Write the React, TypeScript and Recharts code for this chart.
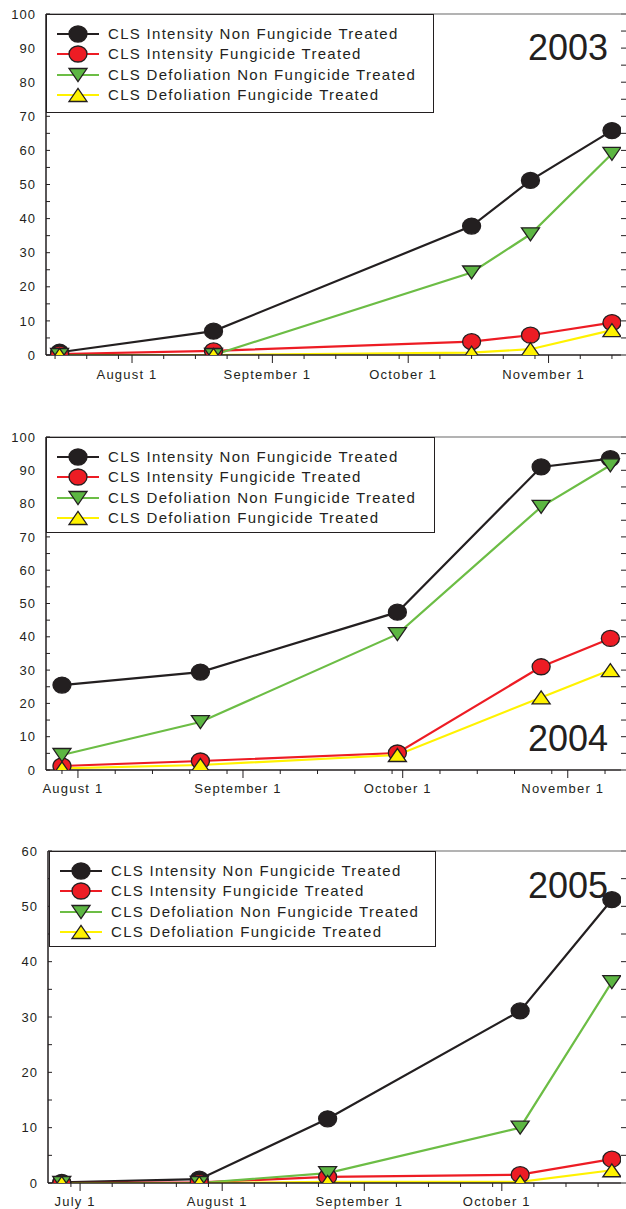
import { LineChart, Line, XAxis, YAxis, Legend, ReferenceLine } from 'recharts'

const SERIES_NAMES = [
  'CLS Intensity Non Fungicide Treated',
  'CLS Intensity Fungicide Treated',
  'CLS Defoliation Non Fungicide Treated',
  'CLS Defoliation Fungicide Treated',
]
const SERIES_COLORS = ['#231f20', '#ed1c24', '#6cbd45', '#fff200']
const SERIES_FILLS = ['#231f20', '#ed1c24', '#5cb642', '#fff200']
const SERIES_SHAPES = ['circle', 'circle', 'down', 'up']
const KEYS = ['intNon', 'intFung', 'defNon', 'defFung']

const MONTHS = ['January', 'February', 'March', 'April', 'May', 'June', 'July', 'August', 'September', 'October', 'November', 'December']

// 2003
const dates2003 = ['2003-07-16', '2003-08-19', '2003-10-15', '2003-10-28', '2003-11-15']
const intNon2003 = [0.8, 7, 37.8, 51.2, 65.8]
const intFung2003 = [0.3, 1.2, 3.9, 5.8, 9.5]
const defNon2003 = [0, 0, 24.2, 35.4, 59]
const defFung2003 = [0, 0, 0.7, 1.7, 7.3]

// 2004
const dates2004 = ['2004-07-29', '2004-08-24', '2004-09-30', '2004-10-27', '2004-11-09']
const intNon2004 = [25.5, 29.4, 47.4, 91, 93.5]
const intFung2004 = [1.2, 2.7, 5.1, 31, 39.5]
const defNon2004 = [4.5, 14.4, 40.8, 79, 91.5]
const defFung2004 = [0.5, 1.5, 4.5, 21.8, 30]

// 2005
const dates2005 = ['2005-06-27', '2005-07-27', '2005-08-24', '2005-10-05', '2005-10-25']
const intNon2005 = [0.1, 0.7, 11.6, 31.1, 51.2]
const intFung2005 = [0, 0.1, 1.1, 1.5, 4.3]
const defNon2005 = [0, 0, 1.8, 10, 36.3]
const defFung2005 = [0, 0, 0.2, 0.2, 2.3]

const INK = '#231f20'
const FONT = '"Liberation Sans", Arial, Helvetica, sans-serif'

function dayNum(s: string) {
  const [y, m, d] = s.split('-').map(Number)
  return Date.UTC(y, m - 1, d) / 86400000
}

function dateOf(n: number) {
  return new Date(n * 86400000)
}

// month starts (major) + 8th/15th/22nd/29th (minor)
function xTicks(from: number, to: number) {
  const out: number[] = []
  for (let n = Math.ceil(from); n <= to; n++) {
    const d = dateOf(n).getUTCDate()
    if ([1, 8, 15, 22, 29].includes(d)) out.push(n)
  }
  return out
}

function Marker({ cx, cy, shape, fill }: any) {
  if (cx == null || cy == null) return null
  if (shape === 'circle') {
    return <ellipse cx={cx} cy={cy} rx={9} ry={8} fill={fill} stroke={INK} strokeWidth={1.3} />
  }
  const pts =
    shape === 'down'
      ? `${cx - 9},${cy - 6.5} ${cx + 9},${cy - 6.5} ${cx},${cy + 6.5}`
      : `${cx - 9},${cy + 6.5} ${cx + 9},${cy + 6.5} ${cx},${cy - 6.5}`
  return <polygon points={pts} fill={fill} stroke={INK} strokeWidth={1.3} strokeLinejoin="miter" />
}

function LegendBox({ width, height }: { width: number; height: number }) {
  return (
    <div
      style={{
        width,
        height,
        boxSizing: 'border-box',
        border: `1px solid ${INK}`,
        background: '#fff',
        paddingTop: 9,
      }}
    >
      {SERIES_NAMES.map((name, i) => (
        <div key={name} style={{ display: 'flex', alignItems: 'center', height: 20.3 }}>
          <svg width={61} height={20} style={{ flex: 'none' }}>
            <line x1={10} x2={52} y1={10} y2={10} stroke={SERIES_COLORS[i]} strokeWidth={2.2} />
            <Marker cx={31} cy={10} shape={SERIES_SHAPES[i]} fill={SERIES_FILLS[i]} />
          </svg>
          <span
            style={{
              fontFamily: FONT,
              fontSize: 15,
              letterSpacing: 1.3,
              color: INK,
              whiteSpace: 'nowrap',
              lineHeight: '20px',
            }}
          >
            {name}
          </span>
        </div>
      ))}
    </div>
  )
}

const makeXTick = (labelDy: number) => (props: any) => {
  const { x, y, payload } = props
  const d = dateOf(payload.value)
  const major = d.getUTCDate() === 1
  return (
    <g>
      <line x1={x} x2={x} y1={y} y2={y + (major ? 8 : 4)} stroke={INK} strokeWidth={1} />
      {major && (
        <text
          x={x - 5}
          y={y + labelDy}
          textAnchor="middle"
          fontFamily={FONT}
          fontSize={13}
          fill={INK}
          style={{ letterSpacing: 1.2 }}
        >
          {`${MONTHS[d.getUTCMonth()]} 1`}
        </text>
      )}
    </g>
  )
}

const YTickLeft = (props: any) => {
  const { x, y, payload } = props
  const v = payload.value
  return (
    <g>
      <line x1={x} x2={x + 4} y1={y} y2={y} stroke={INK} strokeWidth={1} />
      {v % 10 === 0 && (
        <text
          x={x - 10}
          y={y + 4.6}
          textAnchor="end"
          fontFamily={FONT}
          fontSize={13}
          fill={INK}
          style={{ letterSpacing: 1 }}
        >
          {v}
        </text>
      )}
    </g>
  )
}

const YTickRight = (props: any) => {
  const { x, y } = props
  return <line x1={x} x2={x + 5} y1={y} y2={y} stroke={INK} strokeWidth={1} />
}

interface PanelProps {
  year: string
  dates: string[]
  series: number[][]
  domain: [string, string]
  yMax: number
  top: number
  height: number
  margin: { top: number; right: number; bottom: number; left: number }
  xHeight: number
  yWidth: number
  labelDy: number
  legend: { left: number; top: number; width: number; height: number }
  title: { left: number; top: number }
}

function Panel(p: PanelProps) {
  const data = p.dates.map((d, i) => {
    const row: any = { t: dayNum(d) }
    KEYS.forEach((k, j) => (row[k] = p.series[j][i]))
    return row
  })
  const x0 = dayNum(p.domain[0])
  const x1 = dayNum(p.domain[1])
  const yTicks: number[] = []
  for (let v = 0; v <= p.yMax; v += 5) yTicks.push(v)

  return (
    <div style={{ position: 'absolute', left: 0, top: p.top, width: 626, height: p.height }}>
      <LineChart width={626} height={p.height} data={data} margin={p.margin}>
        <XAxis
          dataKey="t"
          type="number"
          domain={[x0, x1]}
          ticks={xTicks(x0, x1)}
          interval={0}
          allowDataOverflow
          height={p.xHeight}
          tickSize={0}
          tickMargin={0}
          tickLine={false}
          axisLine={{ stroke: INK, strokeWidth: 1.5 }}
          tick={makeXTick(p.labelDy)}
        />
        <YAxis
          yAxisId="left"
          type="number"
          domain={[0, p.yMax]}
          ticks={yTicks}
          interval={0}
          allowDataOverflow
          width={p.yWidth}
          tickSize={0}
          tickMargin={0}
          tickLine={false}
          axisLine={{ stroke: INK, strokeWidth: 1.5 }}
          tick={YTickLeft}
        />
        <YAxis
          yAxisId="right"
          orientation="right"
          type="number"
          domain={[0, p.yMax]}
          ticks={yTicks}
          interval={0}
          allowDataOverflow
          width={5}
          tickSize={0}
          tickMargin={0}
          tickLine={false}
          axisLine={false}
          tick={YTickRight}
        />
        <ReferenceLine yAxisId="left" y={p.yMax} stroke="#9a9a9a" strokeWidth={1.5} />
        {KEYS.map((k, i) => (
          <Line
            key={k}
            yAxisId="left"
            type="linear"
            dataKey={k}
            name={SERIES_NAMES[i]}
            stroke={SERIES_COLORS[i]}
            strokeWidth={2.2}
            isAnimationActive={false}
            activeDot={false}
            dot={(dp: any) => (
              <Marker
                key={`${k}-${dp.index}`}
                cx={dp.cx}
                cy={dp.cy}
                shape={SERIES_SHAPES[i]}
                fill={SERIES_FILLS[i]}
              />
            )}
          />
        ))}
        <Legend
          layout="vertical"
          align="center"
          verticalAlign="middle"
          wrapperStyle={{ left: p.legend.left, top: p.legend.top, width: p.legend.width, height: p.legend.height }}
          content={() => <LegendBox width={p.legend.width} height={p.legend.height} />}
        />
      </LineChart>
      <div
        style={{
          position: 'absolute',
          left: p.title.left,
          top: p.title.top,
          fontFamily: FONT,
          fontSize: 36,
          lineHeight: '36px',
          color: INK,
          pointerEvents: 'none',
        }}
      >
        {p.year}
      </div>
    </div>
  )
}

export default function App() {
  return (
    <div style={{ position: 'absolute', left: 0, top: 0, width: 626, height: 1209, background: '#fff', overflow: 'hidden' }}>
      <Panel
        year="2003"
        dates={dates2003}
        series={[intNon2003, intFung2003, defNon2003, defFung2003]}
        domain={['2003-07-13', '2003-11-17']}
        yMax={100}
        top={0}
        height={400}
        margin={{ top: 14, right: 0, bottom: 15, left: 0 }}
        xHeight={30}
        yWidth={46}
        labelDy={24}
        legend={{ left: 46, top: 14, width: 388, height: 99 }}
        title={{ left: 528, top: 29.5 }}
      />
      <Panel
        year="2004"
        dates={dates2004}
        series={[intNon2004, intFung2004, defNon2004, defFung2004]}
        domain={['2004-07-26', '2004-11-11']}
        yMax={100}
        top={420}
        height={400}
        margin={{ top: 17, right: 0, bottom: 20, left: 0 }}
        xHeight={30}
        yWidth={46}
        labelDy={23}
        legend={{ left: 46, top: 17, width: 389, height: 96 }}
        title={{ left: 528, top: 301 }}
      />
      <Panel
        year="2005"
        dates={dates2005}
        series={[intNon2005, intFung2005, defNon2005, defFung2005]}
        domain={['2005-06-24', '2005-10-27']}
        yMax={60}
        top={830}
        height={379}
        margin={{ top: 21, right: 0, bottom: 0, left: 0 }}
        xHeight={26}
        yWidth={48}
        labelDy={23}
        legend={{ left: 49, top: 21, width: 387, height: 96 }}
        title={{ left: 528, top: 37.5 }}
      />
    </div>
  )
}
